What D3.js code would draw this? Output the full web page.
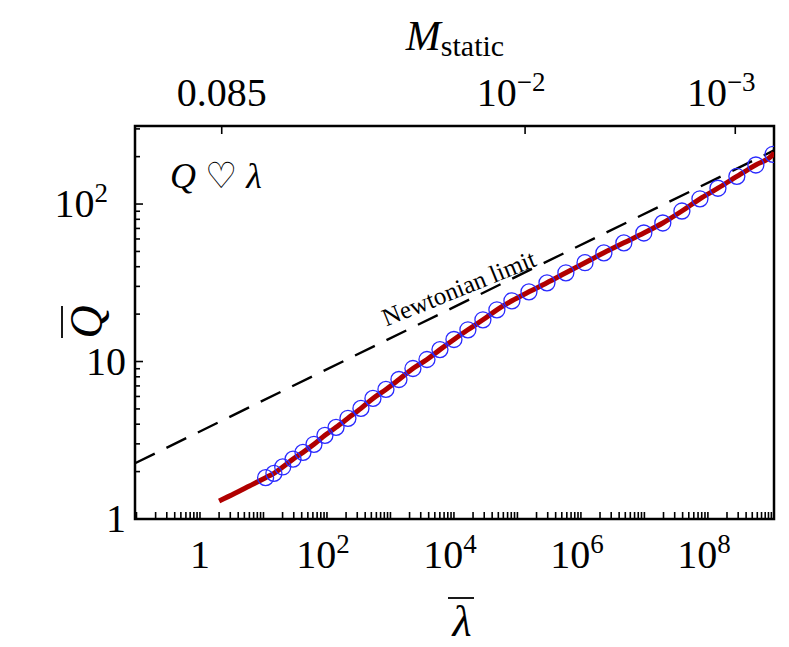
<!DOCTYPE html>
<html><head><meta charset="utf-8">
<script src="https://cdn.jsdelivr.net/npm/d3@7"></script>
<style>body{margin:0;background:#fff}text{font-family:"Liberation Serif","DejaVu Serif",serif}</style>
</head><body><svg id="c" width="789" height="647"></svg>
<script>
const circleLambda=[10.8,14.6,20.1,29.2,41.9,62.4,93,139,214,343,530,849,1361,2260,3760,6020,1.0e4,1.66e4,2.86e4,4.75e4,8.19e4,1.52e5,2.92e5,5.8e5,1.16e6,2.3e6,4.75e6,9.8e6,1.95e7,3.9e7,7.5e7,1.44e8,2.86e8,5.7e8,1.06e9];
const circleQ=[1.83,1.95,2.14,2.40,2.65,2.98,3.40,3.82,4.36,5.04,5.83,6.65,7.69,9.03,10.3,11.9,13.8,15.9,18.4,21.3,24.3,27.7,31.6,36.6,42.4,49.0,56.7,65.5,75.8,90.3,108,126,150,177,207];
const curveHeadLambda=[2.0,3.5,6.0];
const curveHeadQ=[1.30,1.45,1.62];
const curveTailLambda=[1.1e9];
const curveTailQ=[213];
const newtonLambda=[0.0947,1.1e9];
const newtonQ=[2.26,219];
const xTickVals=[1,1e2,1e4,1e6,1e8];
const xTickLabels=["1","10","10","10","10"];
const xTickExp=["","2","4","6","8"];
const yTickVals=[1,10,100];
const topTickLambda=[2.2,1.32e5,2.7e8];
const topTickBase=["0.085","10","10"];
const topTickExp=["","−2","−3"];

const L=135,T=126,R=774,B=519;
const svg=d3.select("#c");
const x=d3.scaleLog().domain([0.0947,1.1e9]).range([L,R]);
const y=d3.scaleLog().domain([1,313]).range([B,T]);
const g=svg.append("g");
svg.append("clipPath").attr("id","cl").append("rect").attr("x",L).attr("y",T).attr("width",R-L).attr("height",B-T);

const xminor=[];
for(let e=-1;e<=9;e++)for(let m=1;m<=9;m++){const v=m*Math.pow(10,e);if(v>=0.0947&&v<=1.1e9)xminor.push(v);}
g.selectAll(".xt").data(xminor).join("line").attr("x1",d=>x(d)).attr("x2",d=>x(d)).attr("y1",B).attr("y2",B-7).attr("stroke","#000").attr("stroke-width",1.6);
const yminor=[];
for(let e=0;e<=2;e++)for(let m=1;m<=9;m++){const v=m*Math.pow(10,e);if(v<=313)yminor.push(v);}
g.selectAll(".yt").data(yminor).join("line").attr("y1",d=>y(d)).attr("y2",d=>y(d)).attr("x1",L).attr("x2",d=>yTickVals.includes(d)?L+8:L+5).attr("stroke","#000").attr("stroke-width",1.6);
g.selectAll(".tt").data(topTickLambda).join("line").attr("x1",d=>x(d)).attr("x2",d=>x(d)).attr("y1",T).attr("y2",T+8).attr("stroke","#000").attr("stroke-width",1.6);

svg.append("rect").attr("x",L).attr("y",T).attr("width",R-L).attr("height",B-T).attr("fill","none").attr("stroke","#000").attr("stroke-width",2.5);

const pg=svg.append("g").attr("clip-path","url(#cl)");
const line=d3.line().x(d=>x(d[0])).y(d=>y(d[1]));
pg.append("path").attr("d",line(newtonLambda.map((l,i)=>[l,newtonQ[i]]))).attr("stroke","#000").attr("stroke-width",2.4).attr("stroke-dasharray","22,13").attr("fill","none");
const red=[...curveHeadLambda.map((l,i)=>[l,curveHeadQ[i]]),...circleLambda.map((l,i)=>[l,circleQ[i]]),...curveTailLambda.map((l,i)=>[l,curveTailQ[i]])];
pg.append("path").attr("d",line.curve(d3.curveMonotoneX)(red)).attr("stroke","#b00000").attr("stroke-width",5).attr("fill","none");
pg.selectAll("circle").data(circleLambda).join("circle").attr("cx",d=>x(d)).attr("cy",(d,i)=>y(circleQ[i])).attr("r",8).attr("fill","none").attr("stroke","#2a2aff").attr("stroke-width",1.3);

const FS=40, ES=27;
xTickVals.forEach((v,i)=>{const t=svg.append("text").attr("x",x(v)+(i?-4:0)).attr("y",568).attr("text-anchor","middle").attr("font-size",FS).text(xTickLabels[i]);
 if(xTickExp[i])t.append("tspan").attr("dy",-15).attr("font-size",ES).text(xTickExp[i]);});
["1","10","10"].forEach((s,i)=>{const t=svg.append("text").attr("x",i==2?108:126).attr("y",y(yTickVals[i])+13).attr("text-anchor","end").attr("font-size",FS).text(s);
 if(i==2)t.append("tspan").attr("dy",-15).attr("font-size",ES).text("2");});
topTickLambda.forEach((v,i)=>{const t=svg.append("text").attr("x",x(v)+(i?-14:0)).attr("y",106).attr("text-anchor","middle").attr("font-size",FS).text(topTickBase[i]);
 if(topTickExp[i])t.append("tspan").attr("dy",-15).attr("font-size",ES).text(topTickExp[i]);});
svg.append("text").attr("x",455).attr("y",50).attr("text-anchor","middle").attr("font-size",42).attr("font-style","italic").text("M").append("tspan").attr("font-style","normal").attr("font-size",30).attr("dy",6).text("static");
svg.append("text").attr("x",462).attr("y",636).attr("text-anchor","middle").attr("font-size",44).attr("font-style","italic").text("λ");
svg.append("line").attr("x1",448).attr("x2",474).attr("y1",598).attr("y2",598).attr("stroke","#000").attr("stroke-width",1.8);
const ql=svg.append("g").attr("transform","translate(90,322) rotate(-90)");
ql.append("text").attr("text-anchor","middle").attr("y",12).attr("font-size",46).attr("font-style","italic").text("Q");
ql.append("line").attr("x1",-16).attr("x2",16).attr("y1",-28).attr("y2",-28).attr("stroke","#000").attr("stroke-width",1.8);
svg.append("text").attr("x",216).attr("y",188).attr("text-anchor","middle").attr("font-size",36).attr("font-style","italic").text("Q ♡ λ");
svg.append("text").attr("transform","translate(462,296) rotate(-22)").attr("text-anchor","middle").attr("font-size",25).text("Newtonian limit");
</script></body></html>
